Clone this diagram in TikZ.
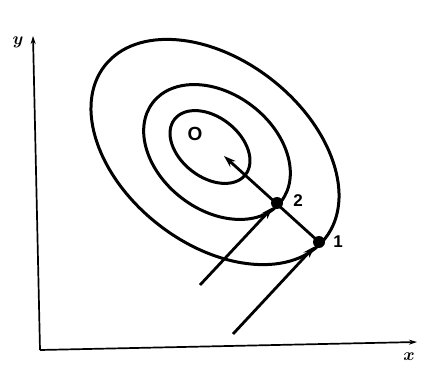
\documentclass[tikz,border=0pt]{standalone}
\usepackage{fontspec}
\setmainfont{Liberation Sans}
\usetikzlibrary{arrows.meta}
\begin{document}
\begin{tikzpicture}[x=1pt,y=-1pt,
  contour/.style={line width=3pt},
  axis/.style={line width=1.7pt,-{Stealth[length=8pt,width=5pt]}},
  ray/.style={line width=2.8pt,-{Stealth[length=12pt,width=8pt]}},
  dot/.style={circle,fill=black,inner sep=0pt,minimum size=12pt},
  lbl/.style={font=\fontsize{17}{17}\selectfont\bfseries,inner sep=0pt},
  axlbl/.style={inner sep=0pt,font=\fontsize{17}{17}\selectfont\boldmath}]
\useasboundingbox (0,0) rectangle (431,385);
% axes
\coordinate (o) at (40,350);
\coordinate (ytop) at (33,36);
\coordinate (xend) at (417,342);
\draw[axis] (o) -- (ytop);
\draw[axis] (o) -- (xend);
\node[axlbl] (ylab) at (18,42) {$y$};
\node[axlbl] (xlab) at (409,357) {$x$};
% contours
\draw[contour, rotate around={-38:(215,152)}] (215,152) ellipse [x radius=140pt, y radius=92pt];
\draw[contour, rotate around={-37.5:(217,152)}] (217,152) ellipse [x radius=81pt, y radius=58pt];
\draw[contour, rotate around={-38:(210,147)}] (210,147) ellipse [x radius=45pt, y radius=30pt];
% optimum label
\node[lbl,font=\fontsize{19}{19}\selectfont\bfseries] (opt) at (195,134) {O};
% points
\node[dot] (p1) at (319,242) {};
\node[dot] (p2) at (277,203) {};
\node[lbl] (l1) at (338,242) {1};
\node[lbl] (l2) at (298,201) {2};
\coordinate (tip) at (224,156);
\coordinate (s2) at (200,285);
\coordinate (s1) at (233,334);
% rays
\draw[ray] (p1.center) -- (tip);
\draw[ray] (s2) -- (p2.225);
\draw[ray] (s1) -- (p1.225);
\end{tikzpicture}
\end{document}
